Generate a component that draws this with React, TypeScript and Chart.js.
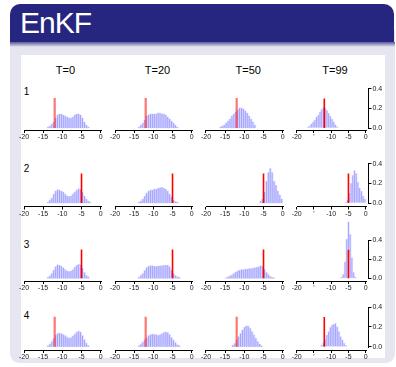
import React, { useEffect, useRef } from 'react';
import { Chart, registerables } from 'chart.js';

Chart.register(...registerables);

const FONT = '"Liberation Sans", Arial, Helvetica, sans-serif';
Chart.defaults.font.family = FONT;

// ---------------- data ----------------
const timeLabels = ['T=0', 'T=20', 'T=50', 'T=99'];
const rowLabels = ['1', '2', '3', '4'];
const xTicks = [-20, -15, -10, -5, 0];
const xTickLabels = ['-20', '-15', '-10', '-5', '0'];
const xTickLabelsLastCol = ['-20', "'", '-10', '-5', '0'];
const yTicks = [0, 0.2, 0.4];
const yTickLabels = ['0.0', '0.2', '0.4'];
const truthPositions = [-12, -5, -5, -12];
const truthHeight = 0.3;
const binWidth = 0.5;

// row 1
const hist1T0 = [0.01, 0.02, 0.04, 0.06, 0.10, 0.13, 0.14, 0.14, 0.13, 0.12, 0.11, 0.10, 0.10, 0.11, 0.13, 0.14, 0.14, 0.13, 0.10, 0.06, 0.03, 0.01];
const hist1T20 = [0.01, 0.03, 0.05, 0.08, 0.12, 0.13, 0.14, 0.14, 0.14, 0.14, 0.15, 0.15, 0.14, 0.14, 0.13, 0.11, 0.09, 0.07, 0.05, 0.03, 0.01];
const hist1T50 = [0.01, 0.02, 0.03, 0.05, 0.07, 0.09, 0.12, 0.14, 0.16, 0.18, 0.20, 0.20, 0.19, 0.17, 0.15, 0.12, 0.09, 0.06, 0.03];
const hist1T99 = [0.01, 0.02, 0.04, 0.06, 0.08, 0.11, 0.13, 0.16, 0.19, 0.21, 0.20, 0.18, 0.15, 0.12, 0.09, 0.06, 0.03, 0.01];
const binStartsRow1 = [-13.75, -13.75, -16.25, -16.75];

// row 2
const hist2T0 = [0.01, 0.03, 0.05, 0.09, 0.12, 0.135, 0.13, 0.12, 0.11, 0.09, 0.07, 0.065, 0.07, 0.09, 0.11, 0.13, 0.145, 0.14, 0.11, 0.07, 0.04, 0.02, 0.01];
const hist2T20 = [0.01, 0.02, 0.04, 0.07, 0.10, 0.12, 0.13, 0.13, 0.14, 0.14, 0.15, 0.155, 0.16, 0.15, 0.14, 0.12, 0.09, 0.06, 0.03, 0.015, 0.01];
const hist2T50 = [0.02, 0.04, 0.11, 0.22, 0.31, 0.35, 0.31, 0.22, 0.18, 0.12, 0.08, 0.04];
const hist2T99 = [0.01, 0.03, 0.10, 0.20, 0.28, 0.33, 0.30, 0.21, 0.15, 0.12, 0.07, 0.04];
const binStartsRow2 = [-13.75, -13.75, -5.75, -5.75];

// row 3
const hist3T0 = [0.01, 0.025, 0.05, 0.085, 0.12, 0.14, 0.135, 0.125, 0.11, 0.09, 0.075, 0.07, 0.075, 0.09, 0.115, 0.135, 0.145, 0.14, 0.105, 0.06, 0.03, 0.015];
const hist3T20 = [0.01, 0.03, 0.05, 0.08, 0.11, 0.125, 0.13, 0.13, 0.125, 0.125, 0.125, 0.13, 0.13, 0.135, 0.135, 0.135, 0.12, 0.08, 0.05, 0.03, 0.015, 0.01];
const hist3T50 = [0.005, 0.015, 0.025, 0.035, 0.05, 0.065, 0.075, 0.085, 0.09, 0.09, 0.095, 0.095, 0.10, 0.10, 0.105, 0.11, 0.115, 0.12, 0.13, 0.125, 0.09, 0.06, 0.04, 0.02, 0.01, 0.005];
const hist3T99 = [0.014, 0.04, 0.17, 0.41, 0.59, 0.46, 0.215, 0.06, 0.014];
const binStartsRow3 = [-13.75, -13.75, -14.75, -7.0];

// row 4
const hist4T0 = [0.01, 0.025, 0.05, 0.08, 0.115, 0.13, 0.135, 0.13, 0.12, 0.11, 0.095, 0.085, 0.09, 0.105, 0.125, 0.145, 0.155, 0.145, 0.11, 0.07, 0.035, 0.012];
const hist4T20 = [0.01, 0.025, 0.045, 0.07, 0.09, 0.11, 0.12, 0.125, 0.123, 0.12, 0.113, 0.12, 0.13, 0.14, 0.147, 0.14, 0.12, 0.09, 0.065, 0.04, 0.02, 0.01];
const hist4T50 = [0.017, 0.033, 0.067, 0.10, 0.133, 0.167, 0.193, 0.207, 0.207, 0.183, 0.15, 0.117, 0.083, 0.05, 0.027, 0.01];
const hist4T99 = [0.017, 0.04, 0.073, 0.117, 0.15, 0.193, 0.217, 0.223, 0.233, 0.20, 0.15, 0.10, 0.067, 0.033, 0.013];
const binStartsRow4 = [-13.75, -13.75, -13.0, -12.75];

const histRows = [
  [hist1T0, hist1T20, hist1T50, hist1T99],
  [hist2T0, hist2T20, hist2T50, hist2T99],
  [hist3T0, hist3T20, hist3T50, hist3T99],
  [hist4T0, hist4T20, hist4T50, hist4T99],
];
const binStartRows = [binStartsRow1, binStartsRow2, binStartsRow3, binStartsRow4];

// ---------------- layout (px) ----------------
const colAxisLeft = [24, 115, 206, 296.7];
const colPxPerUnit = [3.835, 3.835, 3.835, 3.45];
const colTitleCenter = [65.5, 157.5, 248.3, 335];
const rowBaseline = [128, 203, 278.3, 346.7];
const rowAxisY = [130, 206.5, 281, 350];
const rowPxPerUnit = [100, 98.5, 96, 100];
const rowLabelCenter = [92.3, 168.7, 245, 316.3];
const X_EXT = 0.8;
const Y_MAX = 0.62;

const axisLinePlugin = {
  id: 'rAxes',
  afterDraw(chart: any, _args: any, opts: any) {
    const { ctx, chartArea, scales } = chart;
    const xs = scales.x;
    const ys = scales.y;
    ctx.save();
    ctx.strokeStyle = '#000';
    ctx.lineWidth = 1;
    const yb = Math.floor(chartArea.bottom) + 0.5;
    ctx.beginPath();
    ctx.moveTo(Math.round(xs.getPixelForValue(xTicks[0])), yb);
    ctx.lineTo(Math.round(xs.getPixelForValue(xTicks[xTicks.length - 1])) + 1, yb);
    ctx.stroke();
    if (opts && opts.showY) {
      const xr = Math.floor(chartArea.right) + 0.5;
      ctx.beginPath();
      ctx.moveTo(xr, Math.round(ys.getPixelForValue(yTicks[0])) + 1);
      ctx.lineTo(xr, Math.round(ys.getPixelForValue(yTicks[yTicks.length - 1])));
      ctx.stroke();
    }
    ctx.restore();
  },
};

function Panel({ r, c }: { r: number; c: number }) {
  const ref = useRef<HTMLCanvasElement | null>(null);
  const ppu = colPxPerUnit[c];
  const k = rowPxPerUnit[r];
  const last = c === 3;
  const chartLeft = colAxisLeft[c] - X_EXT * ppu;
  const plotW = (20 + 2 * X_EXT) * ppu;
  const canvasLeft = Math.floor(chartLeft) - 9;
  const padL = chartLeft - canvasLeft;
  const yAxisW = last ? 20 : 0;
  const width = Math.ceil(padL + plotW + yAxisW + 8);
  const padR = width - padL - plotW - yAxisW;
  const chartTop = rowBaseline[r] - Y_MAX * k;
  const canvasTop = Math.floor(chartTop) - 4;
  const padT = chartTop - canvasTop;
  const yMin = -(rowAxisY[r] - rowBaseline[r]) / k;
  const plotH = rowAxisY[r] - chartTop;
  const xAxisH = 14;
  const height = Math.ceil(padT + plotH + xAxisH + 1);
  const padB = height - padT - plotH - xAxisH;

  useEffect(() => {
    const values = histRows[r][c];
    const start = binStartRows[r][c];
    const bars = values.map((v, i) => ({ x: start + i * binWidth, y: v }));
    const truth = truthPositions[r];
    const soft = (r === 0 || r === 3) && !last;
    const labels = last ? xTickLabelsLastCol : xTickLabels;
    const chart = new Chart(ref.current as HTMLCanvasElement, {
      type: 'bar',
      data: {
        datasets: [
          {
            type: 'line',
            data: [
              { x: truth, y: 0 },
              { x: truth, y: truthHeight },
            ],
            borderColor: soft ? 'rgba(255,30,30,0.62)' : '#ff0000',
            borderWidth: soft ? 2.2 : 1.6,
            pointRadius: 0,
            order: 0,
          } as any,
          {
            type: 'bar',
            data: bars,
            backgroundColor: 'rgba(120,120,255,0.62)',
            barPercentage: 0.5,
            categoryPercentage: 1,
            grouped: false,
            order: 1,
          } as any,
          {
            type: 'bar',
            data: bars,
            backgroundColor: 'rgba(195,195,255,0.5)',
            barPercentage: 1,
            categoryPercentage: 1,
            grouped: false,
            order: 2,
          } as any,
        ],
      },
      options: {
        animation: false,
        responsive: false,
        maintainAspectRatio: false,
        events: [],
        layout: { padding: { left: padL, right: padR, top: padT, bottom: padB } },
        plugins: {
          legend: { display: false },
          tooltip: { enabled: false },
          title: { display: false },
          rAxes: { showY: last },
        } as any,
        scales: {
          x: {
            type: 'linear',
            min: -20 - X_EXT,
            max: X_EXT,
            offset: false,
            afterBuildTicks: (s: any) => {
              s.ticks = xTicks.map((v) => ({ value: v }));
            },
            afterFit: (s: any) => {
              s.height = xAxisH;
            },
            ticks: {
              autoSkip: false,
              maxRotation: 0,
              padding: 0,
              color: '#222',
              font: { size: 7, family: FONT },
              callback: (v: any) => labels[xTicks.indexOf(Number(v))],
            },
            grid: { display: true, drawOnChartArea: false, drawTicks: true, tickLength: 3, color: '#000', offset: false },
            border: { display: false },
          } as any,
          y: {
            type: 'linear',
            display: last,
            position: 'right',
            min: yMin,
            max: Y_MAX,
            afterBuildTicks: (s: any) => {
              s.ticks = yTicks.map((v) => ({ value: v }));
            },
            afterFit: (s: any) => {
              s.width = yAxisW;
            },
            ticks: {
              padding: 1,
              color: '#222',
              font: { size: 7, family: FONT },
              callback: (v: any) => yTickLabels[yTicks.indexOf(Number(v))],
            },
            grid: { display: true, drawOnChartArea: false, drawTicks: true, tickLength: 3, color: '#000' },
            border: { display: false },
          } as any,
        },
      },
      plugins: [axisLinePlugin as any],
    });
    return () => chart.destroy();
  }, []);

  return (
    <canvas
      ref={ref}
      width={width}
      height={height}
      style={{ position: 'absolute', left: canvasLeft, top: canvasTop, width, height }}
    />
  );
}

export default function App() {
  const panels = [];
  for (let r = 0; r < 4; r++) {
    for (let c = 0; c < 4; c++) {
      panels.push(<Panel key={`${r}-${c}`} r={r} c={c} />);
    }
  }
  return (
    <div
      style={{
        position: 'fixed',
        left: 0,
        top: 0,
        width: 396,
        height: 367,
        background: '#ffffff',
        overflow: 'hidden',
        fontFamily: FONT,
      }}
    >
      {/* slide frame */}
      <div style={{ position: 'absolute', left: 10, top: 30, width: 385, height: 333, background: '#e6e6f0', borderRadius: '0 0 9px 9px' }} />
      <div style={{ position: 'absolute', left: 10, top: 4, width: 384, height: 38, background: '#262680', borderRadius: '10px 10px 0 0' }} />
      <div style={{ position: 'absolute', left: 10, top: 42, width: 385, height: 5, background: 'linear-gradient(#5a5a9a, #e6e6f0)' }} />
      <div style={{ position: 'absolute', left: 21, top: 55, width: 364, height: 303, background: '#ffffff' }} />
      <div
        style={{
          position: 'absolute',
          left: 20,
          top: 8,
          color: '#ffffff',
          fontSize: 30,
          lineHeight: '30px',
          letterSpacing: -1,
          whiteSpace: 'nowrap',
        }}
      >
        EnKF
      </div>
      {timeLabels.map((t, i) => (
        <div
          key={t}
          style={{
            position: 'absolute',
            left: colTitleCenter[i] - 30,
            width: 60,
            top: 64,
            textAlign: 'center',
            fontSize: 11,
            lineHeight: '13px',
            color: '#000',
          }}
        >
          {t}
        </div>
      ))}
      {rowLabels.map((t, i) => (
        <div
          key={t}
          style={{
            position: 'absolute',
            left: 21.5,
            width: 10,
            top: rowLabelCenter[i] - 5.9,
            textAlign: 'center',
            fontSize: 10,
            lineHeight: '12px',
            color: '#000',
          }}
        >
          {t}
        </div>
      ))}
      {panels}
    </div>
  );
}
